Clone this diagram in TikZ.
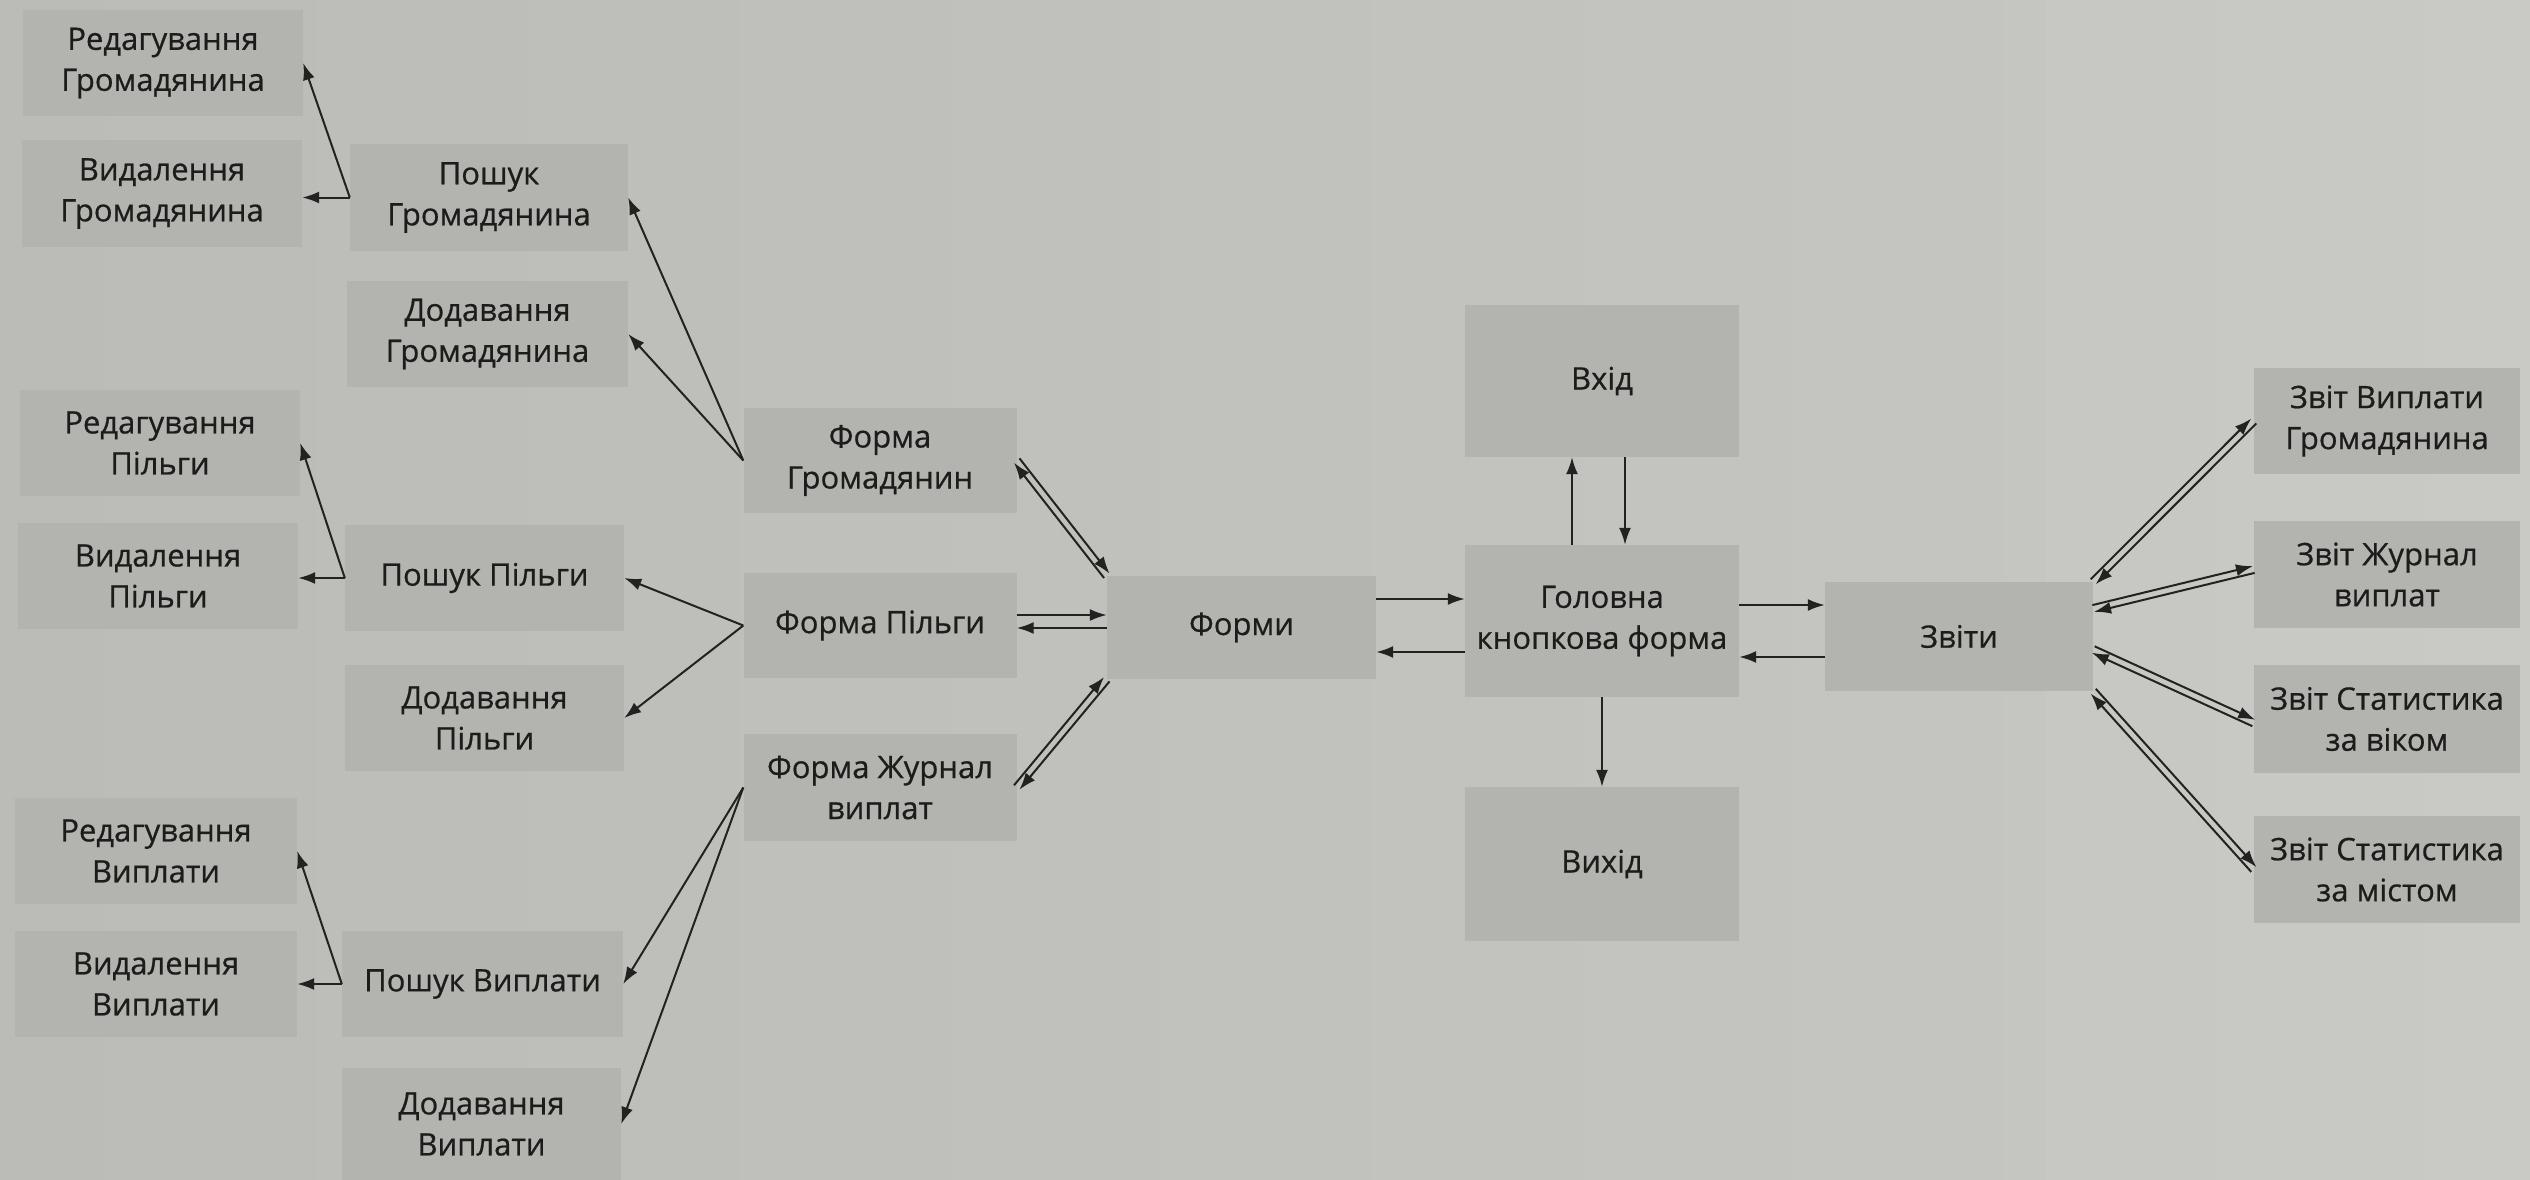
\documentclass[tikz,border=0pt]{standalone}
\usepackage{fontspec}
\setmainfont{Open Sans}
\newfontfamily\boxfont[FakeBold=0.6]{Open Sans}
\usetikzlibrary{calc,arrows.meta}
\definecolor{bgL}{RGB}{187,188,183}
\definecolor{bgM}{RGB}{201,202,197}
\definecolor{bgR}{RGB}{199,200,195}
\definecolor{boxc}{RGB}{179,180,175}
\definecolor{txtc}{RGB}{28,28,27}
\definecolor{linec}{RGB}{34,34,32}
\tikzset{
  box/.style={fill=boxc, draw=none, inner sep=0pt, minimum width=279pt, minimum height=106pt,
    align=center, text=txtc, font=\boxfont\fontsize{31}{41}\selectfont},
  conn/.style={draw=linec, line width=2pt, -{Latex[length=17pt,width=12pt]}}
}
\begin{document}
\begin{tikzpicture}[x=1pt,y=-1pt]
\useasboundingbox (0,0) rectangle (2530,1180);
\shade[left color=bgL, middle color=bgM, right color=bgR] (0,0) rectangle (2530,1180);
\fill[white, opacity=0.05] (2046,0) rectangle (2530,1180);

% column 1
\node[box, minimum width=280pt] (rg) at (163,63) {Редагування\\Громадянина};
\node[box, minimum width=280pt] (vg) at (162,193.5) {Видалення\\Громадянина};
\node[box, minimum width=280pt] (rp) at (160,443) {Редагування\\Пільги};
\node[box, minimum width=280pt] (vp) at (158,576) {Видалення\\Пільги};
\node[box, minimum width=282pt] (rv) at (156,851) {Редагування\\Виплати};
\node[box, minimum width=282pt] (vv) at (156,984) {Видалення\\Виплати};

% column 2
\node[box, minimum width=278pt] (pg) at (489,197.5) {Пошук\\Громадянина};
\node[box, minimum width=281pt] (dg) at (487.5,334) {Додавання\\Громадянина};
\node[box] (pp) at (484.5,578) {Пошук Пільги};
\node[box] (dp) at (484.5,718) {Додавання\\Пільги};
\node[box, minimum width=281pt] (pv) at (482.5,984) {Пошук Виплати};
\node[box, minimum width=279pt, minimum height=112pt] (dv) at (481.5,1124) {Додавання\\Виплати};

% column 3
\node[box, minimum width=273pt, minimum height=105pt] (fg) at (880,460.5) {Форма\\Громадянин};
\node[box, minimum width=273pt, minimum height=105pt] (fp) at (880,625.5) {Форма Пільги};
\node[box, minimum width=273pt, minimum height=107pt] (fj) at (880,787.5) {Форма Журнал\\виплат};

% centre
\node[box, minimum width=269pt, minimum height=103pt] (forms) at (1241.5,627.5) {Форми};
\node[box, minimum width=274pt, minimum height=152pt] (vhid) at (1602,381) {Вхід};
\node[box, minimum width=274pt, minimum height=152pt] (main) at (1602,621) {Головна\\кнопкова форма};
\node[box, minimum width=274pt, minimum height=154pt] (vyhid) at (1602,864) {Вихід};
\node[box, minimum width=268pt, minimum height=109pt] (zvity) at (1959,636.5) {Звіти};

% right column
\node[box, minimum width=266pt] (z1) at (2387,421) {Звіт Виплати\\Громадянина};
\node[box, minimum width=266pt, minimum height=107pt] (z2) at (2387,574.5) {Звіт Журнал\\виплат};
\node[box, minimum width=266pt, minimum height=108pt] (z3) at (2387,719) {Звіт Статистика\\за віком};
\node[box, minimum width=266pt, minimum height=107pt] (z4) at (2387,869.5) {Звіт Статистика\\за містом};

% search -> edit / delete
\draw[conn] (pg.west) -- (rg.east);
\draw[conn] (pg.west) -- (pg.west -| vg.east);
\draw[conn] (pp.west) -- (rp.east);
\draw[conn] (pp.west) -- (pp.west -| vp.east);
\draw[conn] (pv.west) -- (rv.east);
\draw[conn] (pv.west) -- (pv.west -| vv.east);

% forms -> search / add
\draw[conn] (fg.west) -- (pg.east);
\draw[conn] (fg.west) -- (dg.east);
\draw[conn] (fp.west) -- (pp.east);
\draw[conn] (fp.west) -- (dp.east);
\draw[conn] (fj.west) -- (pv.east);
\draw[conn] (fj.west) -- (dv.east);

% pairs form <-> forms
\draw[conn] ($(fg.east)!3.5pt!90:(forms.north west)$) -- ($(forms.north west)!3.5pt!-90:(fg.east)$);
\draw[conn] ($(forms.north west)!3.5pt!90:(fg.east)$) -- ($(fg.east)!3.5pt!-90:(forms.north west)$);
\coordinate (fpA) at ([yshift=4pt]fp.east);
\coordinate (fpB) at (fpA -| forms.west);
\draw[conn] ([yshift=6.5pt]fpA) -- ([yshift=6.5pt]fpB);
\draw[conn] ([yshift=-6.5pt]fpB) -- ([yshift=-6.5pt]fpA);
\draw[conn] ($(fj.east)!3.5pt!90:(forms.south west)$) -- ($(forms.south west)!3.5pt!-90:(fj.east)$);
\draw[conn] ($(forms.south west)!3.5pt!90:(fj.east)$) -- ($(fj.east)!3.5pt!-90:(forms.south west)$);

% forms <-> main
\coordinate (fm1) at ([yshift=28.5pt]forms.east);
\coordinate (fm2) at ([yshift=-24.5pt]forms.east);
\draw[conn] (fm1) -- (fm1 -| main.west);
\draw[conn] (fm2 -| main.west) -- (fm2);

% main <-> zvity
\coordinate (mz1) at ([yshift=16pt]main.east);
\coordinate (mz2) at ([yshift=-36pt]main.east);
\draw[conn] (mz1) -- (mz1 -| zvity.west);
\draw[conn] (mz2 -| zvity.west) -- (mz2);

% main <-> vhid, vyhid
\coordinate (v1) at ([xshift=-30pt]main.north);
\coordinate (v2) at ([xshift=23pt]main.north);
\draw[conn] (v1) -- (v1 |- vhid.south);
\draw[conn] (v2 |- vhid.south) -- (v2);
\draw[conn] (main.south) -- (vyhid.north);

% zvity <-> reports
\coordinate (za1) at (zvity.north east);
\coordinate (zb1) at (z1.west);
\coordinate (za2) at ([yshift=28pt]zvity.east);
\coordinate (zb2) at ([yshift=5pt]z2.west);
\coordinate (za3) at ([yshift=-13pt]zvity.east);
\coordinate (zb3) at ([yshift=-4pt]z3.west);
\coordinate (za4) at (zvity.south east);
\coordinate (zb4) at (z4.west);
\foreach \i in {1,2,3,4}{
  \draw[conn] ($(za\i)!3.5pt!90:(zb\i)$) -- ($(zb\i)!3.5pt!-90:(za\i)$);
  \draw[conn] ($(zb\i)!3.5pt!90:(za\i)$) -- ($(za\i)!3.5pt!-90:(zb\i)$);
}
\end{tikzpicture}
\end{document}
